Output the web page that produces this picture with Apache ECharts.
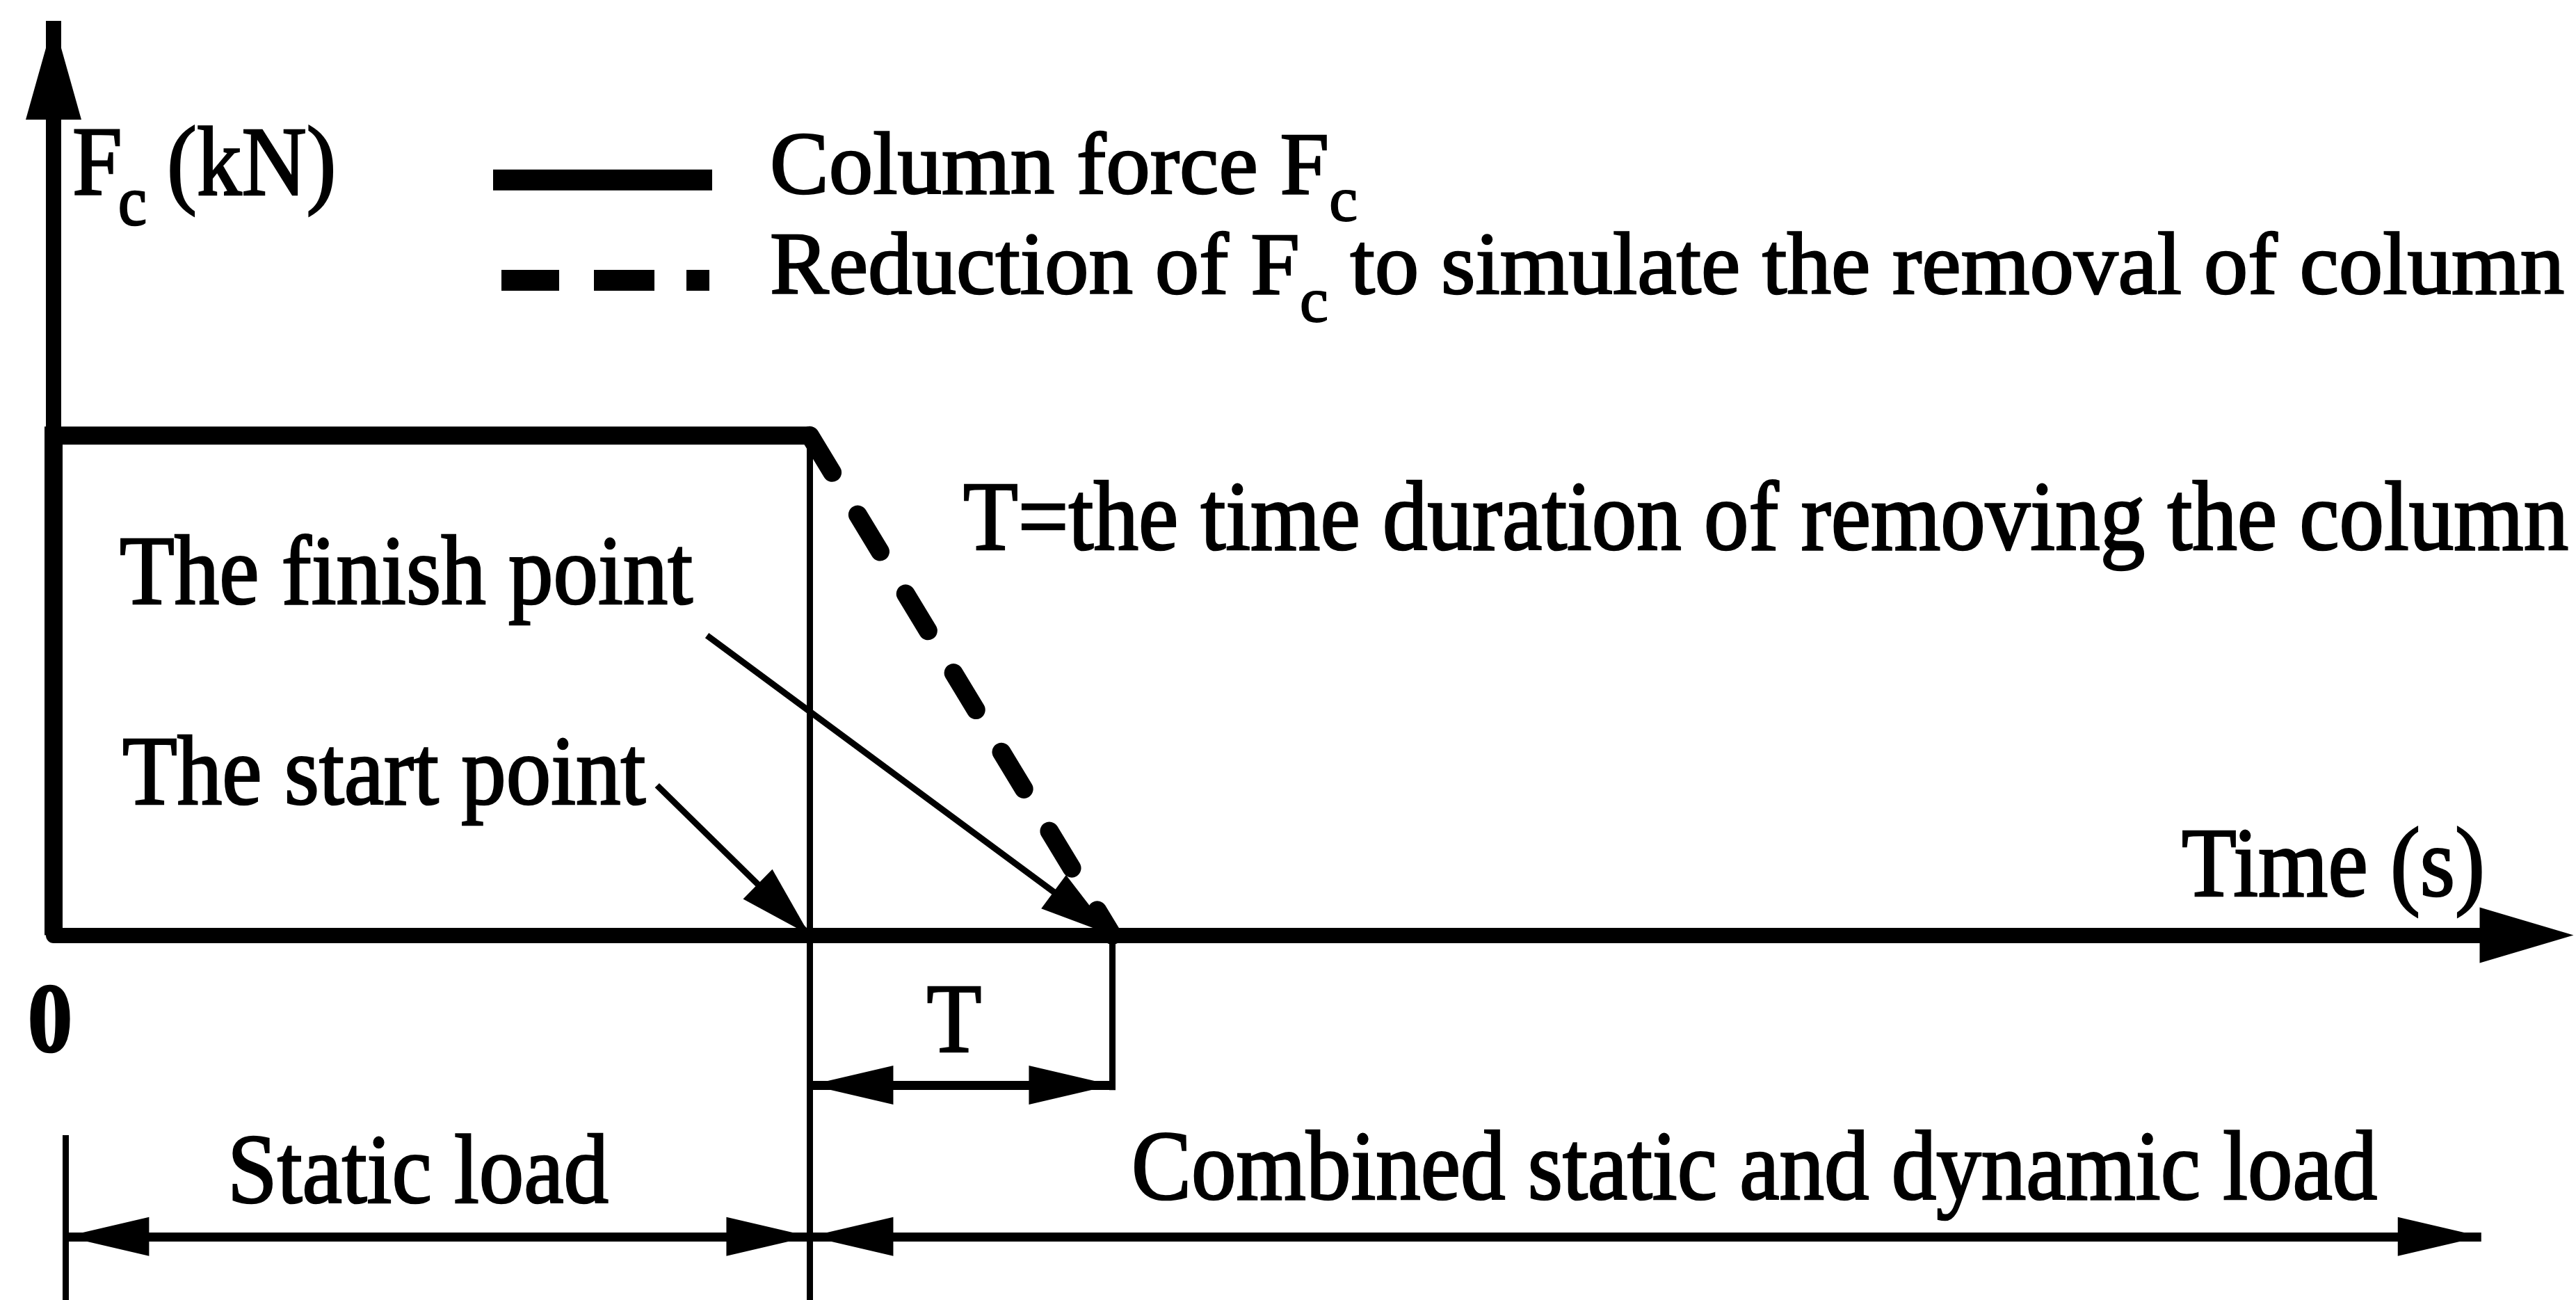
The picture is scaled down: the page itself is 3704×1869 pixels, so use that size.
<!DOCTYPE html>
<html>
<head>
<meta charset="utf-8">
<title>Column removal load history</title>
<script src="https://cdn.jsdelivr.net/npm/echarts@6/dist/echarts.min.js"></script>
<style>
    html, body { margin: 0; padding: 0; background: #fff; }
    #my_chart { width: 3704px; height: 1869px; }
</style>
</head>
<body>
<div id="my_chart"></div>
<script>
// column force Fc (normalised, 1 = static column force)
var forceTime = [0, 0, 5];
var forceValue = [0, 1, 1];
// reduction of Fc: start point -> finish point
var removalTime = [5, 7];
var removalValue = [1, 0];
// load phases along the time axis
var phaseNames = ['Static load', 'Combined static and dynamic load'];
var phaseFrom = [0.08, 5];
var phaseTo = [5, 16.05];
var seriesNames = ['Column force Fc', 'Reduction of Fc to simulate the removal of column'];

// layout (axis units)
var X_MAX = 16.35, Y_TOP = 1.83, Y_BOTTOM = -0.73;
var ROW_T = -0.30, ROW_PHASE = -0.603;
var FONT = '"Liberation Serif", "Times New Roman", serif';
var FS = 129;

function pairs(xs, ys) {
    var out = [];
    for (var i = 0; i < xs.length; i++) out.push([xs[i], ys[i]]);
    return out;
}

// one markLine segment, optional triangle heads
function seg(a, b, w, headA, headB, size) {
    function end(p, head) {
        var o = {coord: p, lineStyle: {width: w, type: 'solid', color: '#000'}, symbol: head ? 'triangle' : 'none'};
        if (head) {
            o.symbolSize = size;
            o.symbolOffset = [0, '50%'];
        }
        return o;
    }
    return [end(a, headA), end(b, headB)];
}

// text placed by its baseline, a bit taller like the scanned original
function txt(s, x, baseline, align, size, weight) {
    var mid = Math.round(size * 0.305);
    return {
        type: 'text', x: x, y: baseline - mid, silent: true,
        scaleY: 1.1, originX: 0, originY: mid,
        style: {
            text: s, fill: '#000', stroke: '#000', lineWidth: 2.5,
            font: (weight || 'normal') + ' ' + size + 'px ' + FONT,
            align: align, verticalAlign: 'middle'
        }
    };
}

var dim = [56, 120], ann = [60, 105];
var marks = [
    seg([0, 0], [0, Y_TOP], 22, false, true, [80, 142]),                          // y axis
    seg([removalTime[0], 1], [removalTime[0], Y_BOTTOM], 9),                       // start guide
    seg([removalTime[1], 0], [removalTime[1], ROW_T - 0.01], 9),                   // finish guide
    seg([phaseFrom[0], -0.40], [phaseFrom[0], Y_BOTTOM], 9),                       // time 0 guide
    seg([removalTime[0], ROW_T], [removalTime[1], ROW_T], 13, true, true, dim),    // T
    seg([phaseFrom[0], ROW_PHASE], [phaseTo[0], ROW_PHASE], 13, true, true, dim),
    seg([phaseFrom[1], ROW_PHASE], [phaseTo[1], ROW_PHASE], 13, true, true, dim),
    seg([3.99, 0.30], [removalTime[0], 0], 9, false, true, ann),                   // start point
    seg([4.32, 0.60], [removalTime[1], 0], 9, false, true, ann)                    // finish point
];

var richMain = {fontFamily: FONT, fontSize: 127, lineHeight: 130, color: '#000', textBorderColor: '#000', textBorderWidth: 2.5};

var myChart = echarts.init(document.getElementById('my_chart'), null, {renderer: 'canvas'});
var option = {
    backgroundColor: '#fff',
    animation: false,
    color: ['#000', '#000', '#000'],
    grid: {left: 77, right: 71, top: 30, bottom: 0, containLabel: false},
    xAxis: {
        type: 'value', min: 0, max: X_MAX,
        axisLine: {
            show: true, onZero: true,
            symbol: ['none', 'triangle'], symbolSize: [80, 135],
            lineStyle: {color: '#000', width: 22}
        },
        axisTick: {show: false}, axisLabel: {show: false}, splitLine: {show: false}
    },
    yAxis: {
        type: 'value', min: Y_BOTTOM, max: Y_TOP,
        axisLine: {show: false}, axisTick: {show: false}, axisLabel: {show: false}, splitLine: {show: false}
    },
    legend: {
        // the lowered subscript enlarges each item's box, hence the negative gap
        orient: 'vertical', left: 704, top: 175, itemGap: -16,
        itemWidth: 315, itemHeight: 58, selectedMode: false,
        data: [
            {name: seriesNames[0], icon: 'path://M0,0M0,28H315V58H0Z'},
            {name: seriesNames[1], icon: 'path://M0,0M12,28H95V58H12ZM145,28H232V58H145ZM278,28H311V58H278ZM315,58'}
        ],
        formatter: function (name) {
            if (name === seriesNames[0]) return '{p|Column force F}{s|c}';
            return '{p|Reduction of F}{s|c}{t| to simulate the removal of column}';
        },
        textStyle: {
            fontFamily: FONT, fontSize: 127, color: '#000',
            rich: {
                p: echarts.util.extend({padding: [0, 0, 0, 78]}, richMain),
                t: richMain,
                s: {fontFamily: FONT, fontSize: 92, height: 33, lineHeight: 33, verticalAlign: 'bottom',
                    color: '#000', textBorderColor: '#000', textBorderWidth: 2}
            }
        }
    },
    series: [
        {
            name: seriesNames[0], type: 'line', data: pairs(forceTime, forceValue),
            symbol: 'none', clip: false, z: 3, silent: true,
            lineStyle: {color: '#000', width: 26, cap: 'butt', join: 'miter'}
        },
        {
            name: seriesNames[1], type: 'line', data: pairs(removalTime, removalValue),
            symbol: 'none', clip: false, z: 3, silent: true,
            lineStyle: {color: '#000', width: 27, type: [62, 71], cap: 'round'}
        },
        {
            name: 'guides', type: 'line', data: [], clip: false, silent: true,
            markLine: {
                silent: true, animation: false, symbol: ['none', 'none'],
                label: {show: false}, emphasis: {disabled: true},
                lineStyle: {type: 'solid', color: '#000'},
                data: marks
            }
        }
    ],
    graphic: [
        txt('F', 104, 286, 'left', FS),
        txt('c', 170, 327, 'left', 92),
        txt('(kN)', 240, 286, 'left', FS),
        txt('0', 72, 1518, 'center', FS, 'bold'),
        txt('Time (s)', 3573, 1294, 'right', FS),
        txt('T=the time duration of removing the column', 1385, 796, 'left', FS),
        txt('The finish point', 172, 874, 'left', FS),
        txt('The start point', 176, 1162, 'left', FS),
        txt('T', 1372, 1518, 'center', FS),
        txt(phaseNames[0], 601, 1735, 'center', FS),
        txt(phaseNames[1], 1627, 1730, 'left', FS)
    ]
};
myChart.setOption(option, true);
</script>
</body>
</html>
